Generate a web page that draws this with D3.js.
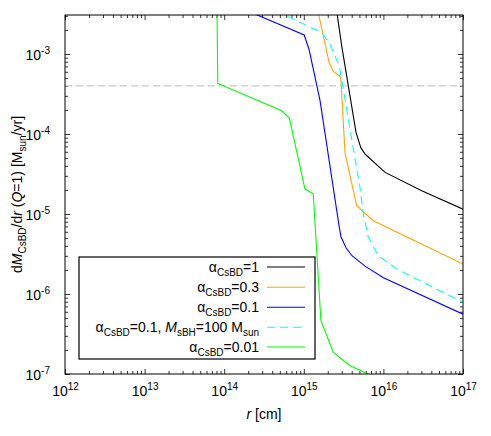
<!DOCTYPE html>
<html><head><meta charset="utf-8">
<script src="https://cdn.jsdelivr.net/npm/d3@7"></script>
<style>
body{margin:0;background:#fff;}
svg{display:block;font-family:"Liberation Sans",Arial,Helvetica,sans-serif;}
</style></head>
<body><svg id="c" width="491" height="436"></svg>
<script>
// ---- data ----
const xTickValues = [1e12, 1e13, 1e14, 1e15, 1e16, 1e17];
const xTickExponents = ["12", "13", "14", "15", "16", "17"];
const yTickValues = [1e-7, 1e-6, 1e-5, 1e-4, 1e-3];
const yTickExponents = ["-7", "-6", "-5", "-4", "-3"];
const referenceLevel = 4e-4;

const rAlpha1 = [2.5e15, 2.99e15, 4.53e15, 5.19e15, 5.87e15, 1.05e16, 3.03e16, 1e17];
const mAlpha1 = [4.4e-3, 1.27e-3, 1.05e-4, 6.8e-5, 5.62e-5, 3.31e-5, 1.95e-5, 1.15e-5];

const rAlpha03 = [1.42e15, 2.07e15, 2.35e15, 2.91e15, 3.3e15, 4.62e15, 7.47e15, 1e17];
const mAlpha03 = [4.5e-3, 8.0e-4, 6.06e-4, 5.2e-4, 5.72e-5, 1.27e-5, 8.24e-6, 2.37e-6];

const rAlpha01 = [1e14, 1.01e15, 1.16e15, 1.6e15, 2.77e15, 2.93e15, 3.39e15, 4.03e15, 5.87e15, 1e16, 1e17];
const mAlpha01 = [4.6e-3, 1.73e-3, 1.155e-3, 2.61e-4, 7.14e-6, 5.2e-6, 3.79e-6, 3.01e-6, 2.23e-6, 1.6e-6, 5.6e-7];

const rAlpha01M100 = [3.16e14, 1.68e15, 2.13e15, 2.79e15, 3.3e15, 4.0e15, 5.08e15, 5.59e15, 6.46e15, 8.63e15, 1.47e16, 1e17];
const mAlpha01M100 = [4.07e-3, 1.85e-3, 1.32e-3, 7.08e-4, 2.7e-4, 8.56e-5, 2.15e-5, 1.0e-5, 5.1e-6, 3.01e-6, 2.05e-6, 7.85e-7];

const rAlpha001 = [8.05e13, 8.3e13, 5.27e14, 6.58e14, 1.035e15, 1.315e15, 1.64e15, 2.35e15, 3.8e15, 6.46e15, 1e16];
const mAlpha001 = [1e-2, 4.29e-4, 1.95e-4, 1.58e-4, 2.05e-5, 1.78e-5, 4.64e-7, 1.86e-7, 1.27e-7, 1e-7, 7.9e-8];

const seriesAlpha = ["1", "0.3", "0.1", "0.1", "0.01"];
const seriesColors = ["#000000", "#ffa500", "#0000ff", "#00ffff", "#00ff00"];

// ---- layout ----
const L = 65, R = 463, T = 15, B = 374;
const svg = d3.select("#c");
const x = d3.scaleLog().domain([1e12, 1e17]).range([L, R]);
const yTop = Math.pow(10, -3 + 39 / 80);
const y = d3.scaleLog().domain([1e-7, yTop]).range([B, T]);

svg.append("defs").append("clipPath").attr("id", "clip")
  .append("rect").attr("x", L).attr("y", T).attr("width", R - L).attr("height", B - T);

function minors(lo, hi) {
  const out = [];
  for (let e = lo; e < hi; e++) for (let k = 2; k <= 9; k++) out.push(k * Math.pow(10, e));
  return out;
}
const xMinor = minors(12, 17);
const yMinor = minors(-7, -2).filter(v => v <= yTop);

const tickCol = "#000";
function styleAxis(g) {
  g.select(".domain").remove();
  g.selectAll(".tick line").attr("stroke", tickCol).attr("stroke-width", 0.8);
}

const gx = svg.append("g").attr("transform", `translate(0,${B})`)
  .call(d3.axisBottom(x).tickValues(xTickValues).tickSize(-5).tickPadding(12).tickFormat(""));
styleAxis(gx);
gx.selectAll(".tick text").each(function (d, i) {
  const t = d3.select(this).attr("font-size", 14).attr("fill", "#000").attr("font-family", null);
  t.append("tspan").text("10");
  t.append("tspan").attr("dy", -6).attr("font-size", 10).text(xTickExponents[i]);
});
svg.append("g").attr("transform", `translate(0,${B})`)
  .call(d3.axisBottom(x).tickValues(xMinor).tickSize(-3).tickFormat("")).call(styleAxis);
svg.append("g").attr("transform", `translate(0,${T})`)
  .call(d3.axisTop(x).tickValues(xTickValues).tickSize(-5).tickFormat("")).call(styleAxis);
svg.append("g").attr("transform", `translate(0,${T})`)
  .call(d3.axisTop(x).tickValues(xMinor).tickSize(-3).tickFormat("")).call(styleAxis);

const gy = svg.append("g").attr("transform", `translate(${L},0)`)
  .call(d3.axisLeft(y).tickValues(yTickValues).tickSize(-5).tickPadding(15).tickFormat(""));
styleAxis(gy);
gy.selectAll(".tick text").each(function (d, i) {
  const t = d3.select(this).attr("font-size", 14).attr("fill", "#000").attr("font-family", null).attr("dy", "0.42em");
  t.append("tspan").text("10");
  t.append("tspan").attr("dy", -6).attr("font-size", 10).text(yTickExponents[i]);
});
svg.append("g").attr("transform", `translate(${L},0)`)
  .call(d3.axisLeft(y).tickValues(yMinor).tickSize(-3).tickFormat("")).call(styleAxis);
svg.append("g").attr("transform", `translate(${R},0)`)
  .call(d3.axisRight(y).tickValues(yTickValues).tickSize(-5).tickFormat("")).call(styleAxis);
svg.append("g").attr("transform", `translate(${R},0)`)
  .call(d3.axisRight(y).tickValues(yMinor).tickSize(-3).tickFormat("")).call(styleAxis);

svg.append("line").attr("x1", L).attr("x2", R)
  .attr("y1", y(referenceLevel)).attr("y2", y(referenceLevel))
  .attr("stroke", "#c8c8c8").attr("stroke-width", 1.2).attr("stroke-dasharray", "7,4");

const seriesData = [
  [rAlpha1, mAlpha1], [rAlpha03, mAlpha03], [rAlpha01, mAlpha01],
  [rAlpha01M100, mAlpha01M100], [rAlpha001, mAlpha001]
];
const line = d3.line().x(d => x(d[0])).y(d => y(d[1]));
const plot = svg.append("g").attr("clip-path", "url(#clip)");
seriesData.forEach((s, i) => {
  const pts = s[0].map((r, j) => [r, s[1][j]]);
  plot.append("path").datum(pts).attr("d", line)
    .attr("fill", "none").attr("stroke", seriesColors[i]).attr("stroke-width", 1.1)
    .attr("stroke-dasharray", i === 3 ? "8,5" : null);
});

svg.append("rect").attr("x", L).attr("y", T).attr("width", R - L).attr("height", B - T)
  .attr("fill", "none").attr("stroke", "#000").attr("stroke-width", 1);

const lg = svg.append("g");
lg.append("rect").attr("x", 79).attr("y", 257).attr("width", 236).attr("height", 102)
  .attr("fill", "#fff").attr("stroke", "#000").attr("stroke-width", 1.2);
const rowY = [267, 287.3, 307.3, 327.3, 347];
seriesAlpha.forEach((a, i) => {
  const t = lg.append("text").attr("x", 259).attr("y", rowY[i]).attr("dy", "0.35em")
    .attr("text-anchor", "end").attr("font-size", 14).attr("fill", "#000");
  t.append("tspan").text("α");
  t.append("tspan").attr("font-size", 10).attr("dy", 4).text("CsBD");
  if (i === 3) {
    t.append("tspan").attr("dy", -4).text("=" + a + ", ");
    t.append("tspan").attr("font-style", "italic").text("M");
    t.append("tspan").attr("font-size", 10).attr("dy", 4).text("sBH");
    t.append("tspan").attr("dy", -4).text("=100 M");
    t.append("tspan").attr("font-size", 10).attr("dy", 4).text("sun");
  } else {
    t.append("tspan").attr("dy", -4).text("=" + a);
  }
  lg.append("line").attr("x1", 267).attr("x2", 305).attr("y1", rowY[i]).attr("y2", rowY[i])
    .attr("stroke", seriesColors[i]).attr("stroke-width", 1.1)
    .attr("stroke-dasharray", i === 3 ? "8,5" : null);
});

const xl = svg.append("text").attr("x", (L + R) / 2).attr("y", 419).attr("text-anchor", "middle")
  .attr("font-size", 14).attr("fill", "#000");
xl.append("tspan").attr("font-style", "italic").text("r");
xl.append("tspan").text(" [cm]");

const yl = svg.append("text").attr("transform", `translate(22,${(T + B) / 2}) rotate(-90)`)
  .attr("text-anchor", "middle").attr("font-size", 14).attr("fill", "#000");
yl.append("tspan").text("d");
yl.append("tspan").attr("font-style", "italic").text("M");
yl.append("tspan").attr("font-size", 10).attr("dy", 4).text("CsBD");
yl.append("tspan").attr("dy", -4).text("/d");
yl.append("tspan").attr("font-style", "italic").text("r");
yl.append("tspan").text(" (");
yl.append("tspan").attr("font-style", "italic").text("Q");
yl.append("tspan").text("=1) [M");
yl.append("tspan").attr("font-size", 10).attr("dy", 4).text("sun");
yl.append("tspan").attr("dy", -4).text("/yr]");
</script></body></html>
